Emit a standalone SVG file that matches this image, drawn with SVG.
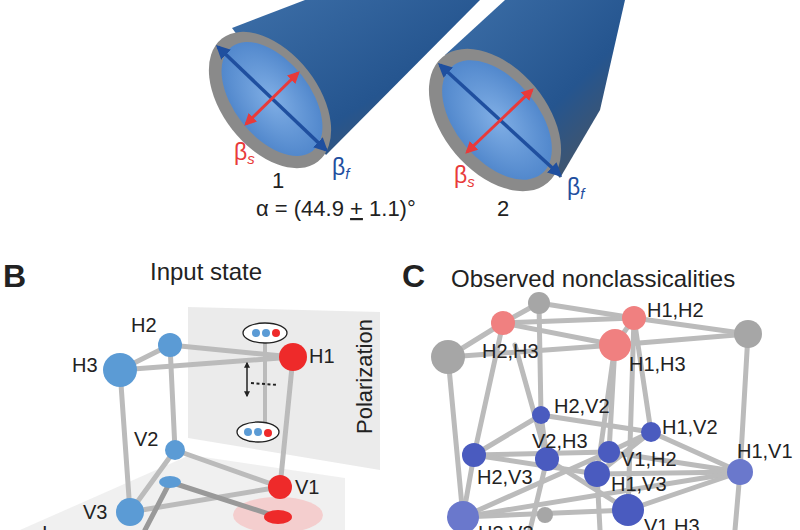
<svg xmlns="http://www.w3.org/2000/svg" width="800" height="530" viewBox="0 0 800 530">
<defs>
<style>
text{font-family:"Liberation Sans",Arial,sans-serif;fill:#222}
.lbl{font-size:20px}
.ttl{font-size:24px}
.pn{font-size:32px;font-weight:bold}
.e{stroke:#bbb;stroke-width:5;stroke-linecap:round;fill:none}
.bl{fill:#5b9bd5}
.rd{fill:#ee2a2a}
.pk{fill:#f08080}
.gr{fill:#a6a6a6}
.nb{fill:#4a5bbf}
.ba{stroke:#1f4f9f;stroke-width:3.5;fill:none}
.ra{stroke:#e83a3a;stroke-width:3;fill:none}
</style>
<marker id="mb" viewBox="0 0 10 10" refX="8" refY="5" markerWidth="4" markerHeight="4" orient="auto-start-reverse"><path d="M0,0L10,5L0,10z" fill="#1f4f9f"/></marker>
<marker id="mr" viewBox="0 0 10 10" refX="8" refY="5" markerWidth="4" markerHeight="4" orient="auto-start-reverse"><path d="M0,0L10,5L0,10z" fill="#e83a3a"/></marker>
<marker id="mk" viewBox="0 0 10 10" refX="8" refY="5" markerWidth="4" markerHeight="4" orient="auto-start-reverse"><path d="M0,0L10,5L0,10z" fill="#222"/></marker>
<linearGradient id="cyl" x1="0" y1="0" x2="1" y2="1"><stop offset="0" stop-color="#3d6fa8"/><stop offset="0.6" stop-color="#25558f"/><stop offset="1" stop-color="#555"/></linearGradient>
<radialGradient id="face"><stop offset="0" stop-color="#7fb0ea"/><stop offset="1" stop-color="#4f88d0"/></radialGradient>
</defs>
<rect width="800" height="530" fill="#fff"/>
<g id="cyl1">
<path d="M232,28 L305,0 L480,0 L326,155 Z" fill="url(#cyl)"/>
<ellipse cx="270" cy="100" rx="48" ry="78" transform="rotate(-38 270 100)" fill="#8a8a8a"/>
<ellipse cx="272" cy="99" rx="38" ry="66" transform="rotate(-38 272 99)" fill="url(#face)" opacity="0.95"/>
<line x1="218" y1="47" x2="326" y2="150" class="ba" marker-start="url(#mb)" marker-end="url(#mb)"/>
<line x1="298" y1="73" x2="246" y2="124" class="ra" marker-start="url(#mr)" marker-end="url(#mr)"/>
</g>
<g id="cyl2">
<path d="M445,55 L505,0 L625,0 L600,110 L560,178 Z" fill="url(#cyl)"/>
<ellipse cx="495" cy="120" rx="52" ry="82" transform="rotate(-40 495 120)" fill="#8a8a8a"/>
<ellipse cx="497" cy="120" rx="41" ry="70" transform="rotate(-40 497 120)" fill="url(#face)" opacity="0.95"/>
<line x1="440" y1="65" x2="560" y2="175" class="ba" marker-start="url(#mb)" marker-end="url(#mb)"/>
<line x1="532" y1="90" x2="467" y2="152" class="ra" marker-start="url(#mr)" marker-end="url(#mr)"/>
</g>
<g id="labelsA">
<text x="234" y="160" style="fill:#e83a3a;font-size:23px">β<tspan font-size="15" dy="4" font-style="italic" fill="#e83a3a">s</tspan></text>
<text x="332" y="175" style="fill:#1f4f9f;font-size:23px">β<tspan font-size="15" dy="4" font-style="italic" fill="#1f4f9f">f</tspan></text>
<text x="454" y="183" style="fill:#e83a3a;font-size:23px">β<tspan font-size="15" dy="4" font-style="italic" fill="#e83a3a">s</tspan></text>
<text x="567" y="195" style="fill:#1f4f9f;font-size:23px">β<tspan font-size="15" dy="4" font-style="italic" fill="#1f4f9f">f</tspan></text>
<text x="272" y="188" style="font-size:22px">1</text>
<text x="497" y="216" style="font-size:22px">2</text>
<text x="256" y="216" style="font-size:22px">α = (44.9 <tspan text-decoration="underline">+</tspan> 1.1)°</text>
</g>
<text x="3" y="287" class="pn">B</text>
<text x="150" y="280" class="ttl">Input state</text>
<polygon points="188,307 380,312 380,470 188,438" fill="#e6e6e6" opacity="0.8"/>
<polygon points="20,530 190,455 345,478 345,530" fill="#ececec" opacity="0.8"/>
<ellipse cx="278" cy="515" rx="45" ry="18" fill="#f7b8b8" opacity="0.6"/>
<text transform="translate(372,372) rotate(-90)" x="-62" y="0" style="font-size:22px">Polarization</text>
<g id="edgesB">
<line x1="120" y1="370" x2="170" y2="345" class="e"/>
<line x1="170" y1="345" x2="293" y2="357" class="e"/>
<line x1="120" y1="370" x2="293" y2="357" class="e"/>
<line x1="120" y1="370" x2="130" y2="512" class="e"/>
<line x1="170" y1="345" x2="175" y2="450" class="e"/>
<line x1="293" y1="357" x2="280" y2="487" class="e"/>
<line x1="175" y1="450" x2="280" y2="487" class="e"/>
<line x1="175" y1="450" x2="130" y2="512" class="e"/>
<line x1="130" y1="512" x2="280" y2="487" class="e"/>
<line x1="170" y1="482" x2="278" y2="517" class="e" style="stroke:#999"/>
<line x1="170" y1="482" x2="145" y2="530" class="e" style="stroke:#999"/>
<line x1="265" y1="343" x2="265" y2="423" class="e" style="stroke-width:4"/>
<line x1="247" y1="363" x2="247" y2="396" stroke="#222" stroke-width="1.5" marker-start="url(#mk)" marker-end="url(#mk)"/>
<line x1="251" y1="383" x2="278" y2="385" stroke="#222" stroke-width="2" stroke-dasharray="3,2.5"/>
</g>
<g id="ovalTop"><ellipse cx="265" cy="333" rx="22" ry="10" fill="#fff" stroke="#222" stroke-width="1.3"/><circle cx="256" cy="333" r="4" class="bl"/><circle cx="266" cy="333" r="4" class="bl"/><circle cx="276" cy="333" r="4" class="rd"/></g>
<g id="ovalBot"><ellipse cx="258" cy="432" rx="21" ry="10" fill="#fff" stroke="#222" stroke-width="1.3"/><circle cx="248" cy="432" r="4" class="bl"/><circle cx="258" cy="432" r="4" class="bl"/><circle cx="268" cy="433" r="4" class="rd"/></g>
<g id="fB1"><ellipse cx="170" cy="482" rx="11" ry="6" class="bl"/></g>
<g id="fB2"><ellipse cx="278" cy="517" rx="14" ry="7" class="rd"/></g>
<g id="H2"><circle cx="170" cy="345" r="12" class="bl"/><text x="131" y="332" class="lbl">H2</text></g>
<g id="H3"><circle cx="120" cy="370" r="17" class="bl"/><text x="72" y="372" class="lbl">H3</text></g>
<g id="H1"><circle cx="293" cy="357" r="14" class="rd"/><text x="309" y="363" class="lbl">H1</text></g>
<g id="V2"><circle cx="175" cy="450" r="10" class="bl"/><text x="134" y="446" class="lbl">V2</text></g>
<g id="V1"><circle cx="280" cy="487" r="12" class="rd"/><text x="295" y="494" class="lbl">V1</text></g>
<g id="V3"><circle cx="130" cy="512" r="14" class="bl"/><text x="83" y="519" class="lbl">V3</text></g>
<text x="42" y="540" class="lbl">I</text>
<text x="402" y="287" class="pn">C</text>
<text x="451" y="287" class="ttl">Observed nonclassicalities</text>
<g id="edgesC">
<line x1="539" y1="303" x2="503" y2="323" class="e"/>
<line x1="539" y1="303" x2="634" y2="318" class="e"/>
<line x1="503" y1="323" x2="448" y2="357" class="e"/>
<line x1="503" y1="323" x2="634" y2="318" class="e"/>
<line x1="503" y1="323" x2="615" y2="345" class="e"/>
<line x1="448" y1="357" x2="615" y2="345" class="e"/>
<line x1="634" y1="318" x2="748" y2="334" class="e"/>
<line x1="615" y1="345" x2="748" y2="334" class="e"/>
<line x1="634" y1="318" x2="615" y2="345" class="e"/>
<line x1="448" y1="357" x2="463" y2="517" class="e"/>
<line x1="748" y1="334" x2="740" y2="472" class="e"/>
<line x1="539" y1="303" x2="541" y2="415" class="e"/>
<line x1="503" y1="323" x2="474" y2="455" class="e"/>
<line x1="515" y1="345" x2="547" y2="459" class="e"/>
<line x1="634" y1="318" x2="651" y2="432" class="e"/>
<line x1="615" y1="345" x2="597" y2="474" class="e"/>
<line x1="615" y1="345" x2="609" y2="452" class="e"/>
<line x1="634" y1="318" x2="628" y2="510" class="e"/>
<line x1="541" y1="415" x2="474" y2="455" class="e"/>
<line x1="541" y1="415" x2="651" y2="432" class="e"/>
<line x1="541" y1="415" x2="547" y2="459" class="e"/>
<line x1="474" y1="455" x2="609" y2="452" class="e"/>
<line x1="474" y1="455" x2="463" y2="517" class="e"/>
<line x1="474" y1="455" x2="597" y2="474" class="e"/>
<line x1="547" y1="459" x2="628" y2="510" class="e"/>
<line x1="651" y1="432" x2="740" y2="472" class="e"/>
<line x1="651" y1="432" x2="609" y2="452" class="e"/>
<line x1="651" y1="432" x2="597" y2="474" class="e"/>
<line x1="609" y1="452" x2="740" y2="472" class="e"/>
<line x1="597" y1="474" x2="740" y2="472" class="e"/>
<line x1="463" y1="517" x2="740" y2="472" class="e"/>
<line x1="463" y1="517" x2="628" y2="510" class="e"/>
<line x1="463" y1="517" x2="609" y2="452" class="e"/>
<line x1="628" y1="510" x2="740" y2="472" class="e"/>
<line x1="740" y1="472" x2="735" y2="530" class="e"/>
<line x1="547" y1="459" x2="530" y2="530" class="e"/>
<line x1="597" y1="474" x2="600" y2="530" class="e"/>
</g>
<g id="g1"><circle cx="539" cy="303" r="11" class="gr"/></g>
<g id="H2H3"><circle cx="503" cy="323" r="12" class="pk"/><text x="482" y="358" class="lbl">H2,H3</text></g>
<g id="g2"><circle cx="448" cy="357" r="17" class="gr"/></g>
<g id="H1H2"><circle cx="634" cy="318" r="12" class="pk"/><text x="647" y="317" class="lbl">H1,H2</text></g>
<g id="H1H3"><circle cx="615" cy="345" r="16" class="pk"/><text x="629" y="371" class="lbl">H1,H3</text></g>
<g id="g3"><circle cx="748" cy="334" r="14" class="gr"/></g>
<g id="H2V2"><circle cx="541" cy="415" r="9" class="nb"/><text x="554" y="413" class="lbl">H2,V2</text></g>
<g id="H1V2"><circle cx="651" cy="432" r="10" class="nb"/><text x="662" y="434" class="lbl">H1,V2</text></g>
<g id="H2V3"><circle cx="474" cy="455" r="12" class="nb"/><text x="477" y="484" class="lbl">H2,V3</text></g>
<g id="V2H3"><circle cx="547" cy="459" r="12" class="nb"/><text x="532" y="448" class="lbl">V2,H3</text></g>
<g id="V1H2"><circle cx="609" cy="452" r="11" class="nb"/><text x="621" y="466" class="lbl">V1,H2</text></g>
<g id="H1V3"><circle cx="597" cy="474" r="13" class="nb"/><text x="611" y="491" class="lbl">H1,V3</text></g>
<g id="H1V1"><circle cx="740" cy="472" r="13" class="nb" style="fill:#6a78cc"/><text x="737" y="458" class="lbl">H1,V1</text></g>
<g id="g4"><circle cx="545" cy="515" r="8" class="gr"/></g>
<g id="n1"><circle cx="463" cy="517" r="16" class="nb" style="fill:#6a78cc"/><text x="478" y="540" class="lbl">H3,V3</text></g>
<g id="V1H3"><circle cx="628" cy="510" r="16" class="nb"/><text x="644" y="533" class="lbl">V1,H3</text></g>
</svg>
